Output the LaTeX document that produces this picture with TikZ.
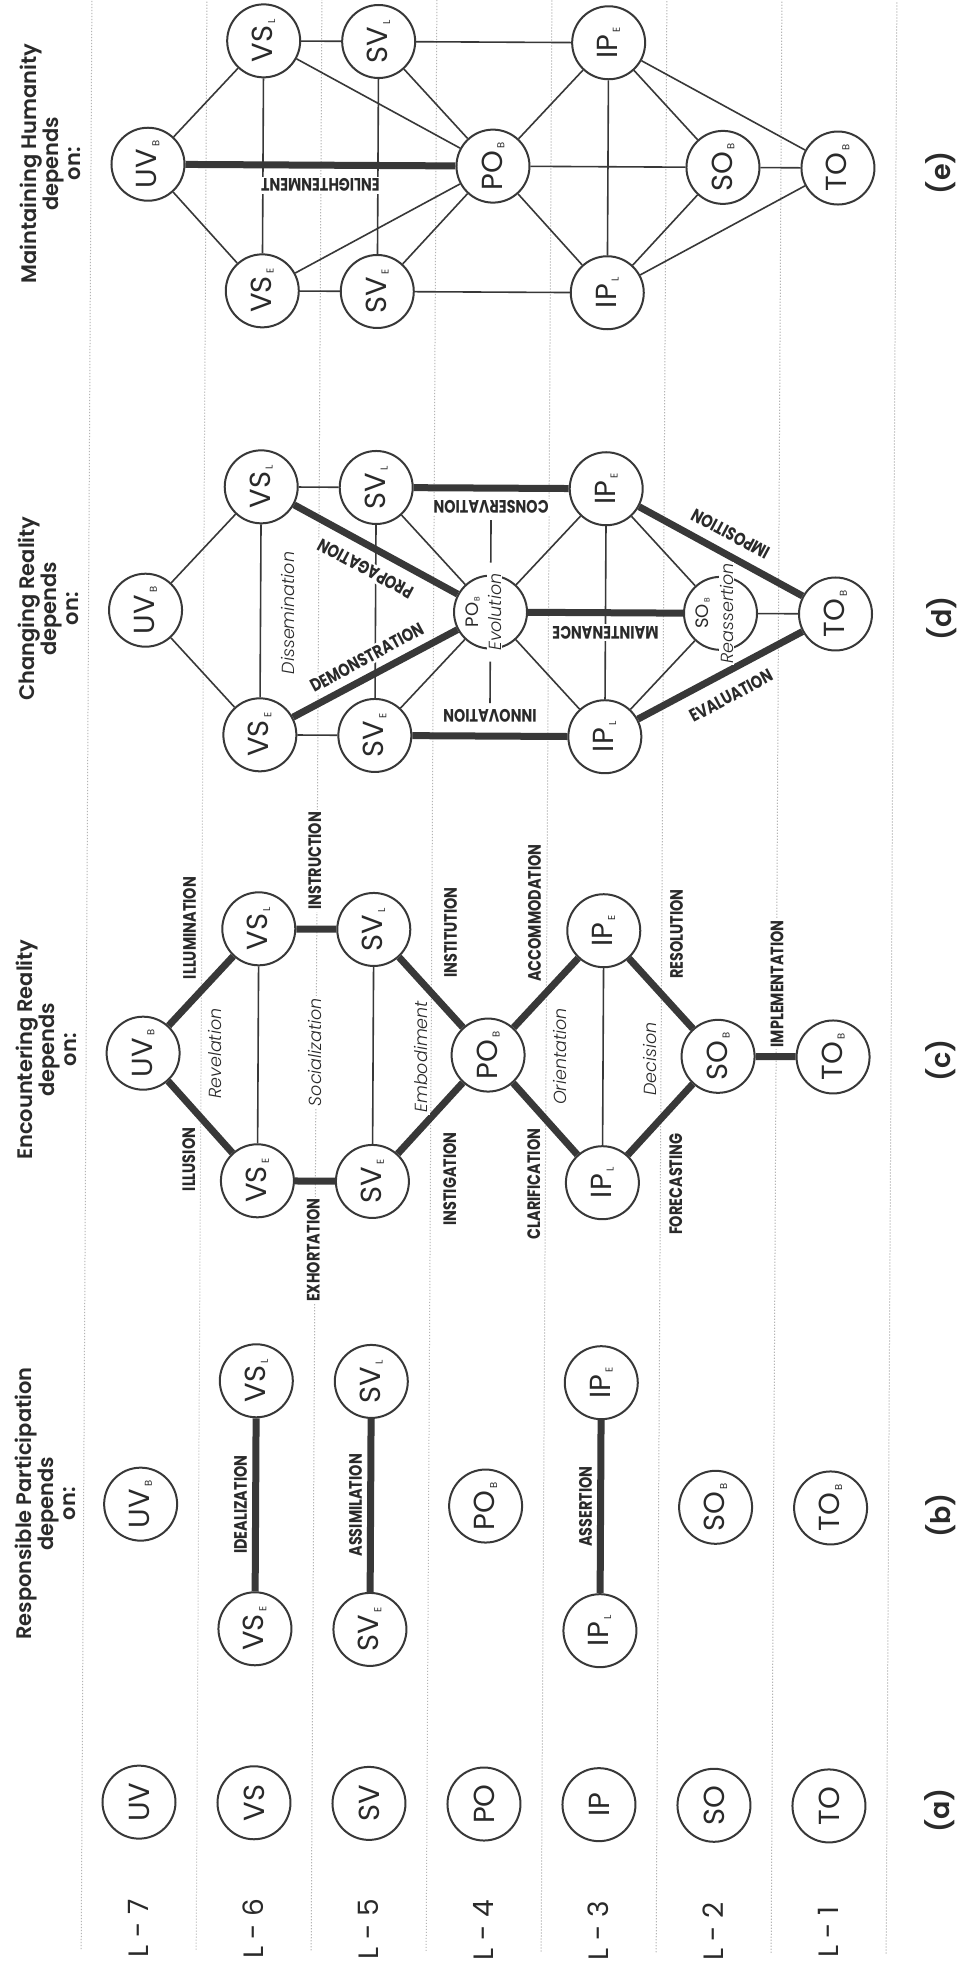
\documentclass[tikz,border=0pt]{standalone}
\usepackage{fontspec}
\setmainfont{Poppins}
\newfontfamily\pSemi{Poppins SemiBold}
\newfontfamily\pCond{Poppins Bold}[FakeStretch=0.8]
\newfontfamily\pLtIt{Poppins Light Italic}
\usetikzlibrary{calc}
\definecolor{ink}{HTML}{2A2A2A}
\definecolor{linec}{HTML}{383838}
\definecolor{dotc}{HTML}{B4B4B4}
\newcommand\sbs[1]{\kern1.2pt\raisebox{-1.2pt}{\fontsize{5}{5}\selectfont #1}}
\newcommand\sbss[1]{\kern0.8pt\raisebox{-0.8pt}{\fontsize{3.8}{3.8}\selectfont #1}}
\tikzset{
  nd/.style={circle, draw=linec, line width=1pt, fill=white, minimum size=36.5pt, inner sep=0pt, rotate=90, text=ink, font=\fontsize{14.5}{14.5}\selectfont},
  lite/.style={draw=linec, line width=0.8pt},
  heavy/.style={draw=linec, line width=3.5pt},
  lab/.style={font=\pCond\fontsize{9}{9}\selectfont, text=ink, fill=white, inner sep=1pt},
  ital/.style={font=\pLtIt\fontsize{8.75}{8.75}\selectfont, text=ink, fill=white, inner sep=1pt, rotate=90},
  small/.style={font=\fontsize{9}{9}\selectfont, text=ink, inner sep=0pt, rotate=90},
  head/.style={font=\pSemi\fontsize{10.5}{11}\selectfont, align=center, rotate=90, text=ink, inner sep=0pt},
  lvl/.style={font=\fontsize{14}{14}\selectfont, rotate=90, text=ink},
  tag/.style={font=\pSemi\fontsize{13.5}{13.5}\selectfont, rotate=90, text=ink},
  dots/.style={draw=dotc, line width=0.5pt, dash pattern=on 0.6pt off 0.9pt},
}
\begin{document}
\begin{tikzpicture}[x=0.5pt,y=-0.5pt]
\fill[white] (0,0) rectangle (963,1961);
\useasboundingbox (0,0) rectangle (963,1961);
\begin{scope}[rotate around={-0.315:(481,1800)}]
\foreach \x in {82,197,312,427,542,657,772,887} \draw[dots] (\x,0) -- (\x,1953);

% level labels
\node[lvl] (L7) at (139,1930) {L - 7};
\node[lvl] (L6) at (254,1930) {L - 6};
\node[lvl] (L5) at (369,1930) {L - 5};
\node[lvl] (L4) at (484,1930) {L - 4};
\node[lvl] (L3) at (599,1930) {L - 3};
\node[lvl] (L2) at (714,1930) {L - 2};
\node[lvl] (L1) at (829,1930) {L - 1};

% headings
\node[head] (He) at (41,166) {Maintaining Humanity\\depends\\on:};
\node[head] (Hd) at (42,611) {Changing Reality\\depends\\on:};
\node[head] (Hc) at (42,1052) {Encountering Reality\\depends\\on:};
\node[head] (Hb) at (44,1506) {Responsible Participation\\depends\\on:};

% tags
\node[tag] (Te) at (932,170) {(e)};
\node[tag] (Td) at (935,616) {(d)};
\node[tag] (Tc) at (937,1058) {(c)};
\node[tag] (Tb) at (939,1513) {(b)};
\node[tag] (Ta) at (940,1808) {(a)};

% ---------------- (a)
\node[nd] (UVa) at (139,1804) {UV};
\node[nd] (VSa) at (254,1804) {VS};
\node[nd] (SVa) at (369,1804) {SV};
\node[nd] (POa) at (484,1804) {PO};
\node[nd] (IPa) at (599,1804) {IP};
\node[nd] (SOa) at (714,1804) {SO};
\node[nd] (TOa) at (829,1804) {TO};

% ---------------- (b)
\node[nd] (UVb) at (139,1506) {UV\sbs{B}};
\node[nd] (VSEb) at (254,1630) {VS\sbs{E}};
\node[nd] (VSLb) at (254,1382) {VS\sbs{L}};
\node[nd] (SVEb) at (369,1630) {SV\sbs{E}};
\node[nd] (SVLb) at (369,1382) {SV\sbs{L}};
\node[nd] (POb) at (484,1506) {PO\sbs{B}};
\node[nd] (IPLb) at (599,1630) {IP\sbs{L}};
\node[nd] (IPEb) at (599,1382) {IP\sbs{E}};
\node[nd] (SOb) at (714,1506) {SO\sbs{B}};
\node[nd] (TOb) at (829,1506) {TO\sbs{B}};
\draw[heavy] (VSEb) -- (VSLb) (SVEb) -- (SVLb) (IPLb) -- (IPEb);
\node[lab, rotate=90] at (239,1506) {IDEALIZATION};
\node[lab, rotate=90] at (354,1506) {ASSIMILATION};
\node[lab, rotate=90] at (584,1506) {ASSERTION};

% ---------------- (c)
\node[nd] (UVBc) at (139,1055) {UV\sbs{B}};
\node[nd] (VSLc) at (254,930) {VS\sbs{L}};
\node[nd] (VSEc) at (254,1182) {VS\sbs{E}};
\node[nd] (SVLc) at (369,930) {SV\sbs{L}};
\node[nd] (SVEc) at (369,1182) {SV\sbs{E}};
\node[nd] (POBc) at (484,1055) {PO\sbs{B}};
\node[nd] (IPEc) at (599,930) {IP\sbs{E}};
\node[nd] (IPLc) at (599,1182) {IP\sbs{L}};
\node[nd] (SOBc) at (714,1055) {SO\sbs{B}};
\node[nd] (TOBc) at (829,1055) {TO\sbs{B}};
\draw[lite] (VSLc) -- (VSEc) (SVLc) -- (SVEc) (IPEc) -- (IPLc);
\draw[heavy] (UVBc) -- (VSLc) (UVBc) -- (VSEc) (VSLc) -- (SVLc) (VSEc) -- (SVEc)
  (SVLc) -- (POBc) (SVEc) -- (POBc) (POBc) -- (IPEc) (POBc) -- (IPLc)
  (IPEc) -- (SOBc) (IPLc) -- (SOBc) (SOBc) -- (TOBc);
\node[ital] at (211,1055) {Revelation};
\node[ital] at (311,1053) {Socialization};
\node[ital] at (417,1057) {Embodiment};
\node[ital] at (556,1056) {Orientation};
\node[ital] at (646,1058) {Decision};
\node[lab, rotate=90, anchor=east] at (185,1127) {ILLUSION};
\node[lab, rotate=90, anchor=west] at (185,983) {ILLUMINATION};
\node[lab, rotate=90, anchor=east] at (310,1197) {EXHORTATION};
\node[lab, rotate=90, anchor=west] at (310,913) {INSTRUCTION};
\node[lab, rotate=90, anchor=east] at (446,1130) {INSTIGATION};
\node[lab, rotate=90, anchor=west] at (446,980) {INSTITUTION};
\node[lab, rotate=90, anchor=east] at (530,1126) {CLARIFICATION};
\node[lab, rotate=90, anchor=west] at (530,984) {ACCOMMODATION};
\node[lab, rotate=90, anchor=east] at (672,1130) {FORECASTING};
\node[lab, rotate=90, anchor=west] at (672,980) {RESOLUTION};
\node[lab, rotate=90, anchor=west] at (773,1048) {IMPLEMENTATION};

% ---------------- (d)
\node[nd] (UVBd) at (139,612) {UV\sbs{B}};
\node[nd] (VSLd) at (254,488) {VS\sbs{L}};
\node[nd] (VSEd) at (254,736) {VS\sbs{E}};
\node[nd] (SVLd) at (369,488) {SV\sbs{L}};
\node[nd] (SVEd) at (369,736) {SV\sbs{E}};
\node[nd] (POBd) at (484,612) {};
\node[nd] (IPEd) at (599,488) {IP\sbs{E}};
\node[nd] (IPLd) at (599,736) {IP\sbs{L}};
\node[nd] (SOBd) at (714,612) {};
\node[nd] (TOBd) at (829,612) {TO\sbs{B}};
\coordinate (dPOt) at (484,520);
\coordinate (dPOb) at (484,703);
\draw[lite] (UVBd) -- (VSLd) (UVBd) -- (VSEd) (VSLd) -- (VSEd) (VSLd) -- (SVLd)
  (VSEd) -- (SVEd) (SVLd) -- (SVEd) (SVLd) -- (POBd) (SVEd) -- (POBd)
  (POBd) -- (IPEd) (POBd) -- (IPLd) (IPEd) -- (IPLd) (IPEd) -- (SOBd)
  (IPLd) -- (SOBd) (SOBd) -- (TOBd);
\draw[lite, shorten <=6pt] (POBd) -- (dPOt);
\draw[lite, shorten <=6pt] (POBd) -- (dPOb);
\draw[heavy] (VSLd) -- (POBd) (VSEd) -- (POBd) (SVLd) -- (IPEd) (SVEd) -- (IPLd)
  (POBd) -- (SOBd) (IPEd) -- (TOBd) (IPLd) -- (TOBd);
\node[ital] at (281,614) {Dissemination};
\node[lab, rotate=151.7] at ($(POBd)!0.5!(VSLd)!11pt!90:(VSLd)$) {PROPAGATION};
\node[lab, rotate=28.3] at ($(VSEd)!0.5!(POBd)!9pt!90:(POBd)$) {DEMONSTRATION};
\node[lab, rotate=180] at ($(IPEd)!0.5!(SVLd)!9.5pt!90:(SVLd)$) {CONSERVATION};
\node[lab, rotate=180] at ($(IPLd)!0.5!(SVEd)!10pt!-90:(SVEd)$) {INNOVATION};
\node[lab, rotate=180] at ($(SOBd)!0.5!(POBd)!10pt!90:(POBd)$) {MAINTENANCE};
\node[lab, rotate=151.7] at ($(TOBd)!0.5!(IPEd)!10pt!-90:(IPEd)$) {IMPOSITION};
\node[lab, rotate=28.3] at ($(IPLd)!0.5!(TOBd)!11.5pt!-90:(TOBd)$) {EVALUATION};
\node[small] (POBdt) at (466,612) {PO\sbss{B}};
\node[ital, inner sep=0.5pt] (POBdi) at (488,612) {Evolution};
\node[small] (SOBdt) at (696,612) {SO\sbss{B}};
\node[ital, inner sep=0.5pt] (SOBdi) at (720,612) {Reassertion};

% ---------------- (e)
\node[nd] (UVBe) at (139,166) {UV\sbs{B}};
\node[nd] (VSLe) at (254,42) {VS\sbs{L}};
\node[nd] (VSEe) at (254,292) {VS\sbs{E}};
\node[nd] (SVLe) at (369,42) {SV\sbs{L}};
\node[nd] (SVEe) at (369,292) {SV\sbs{E}};
\node[nd] (POBe) at (484,166) {PO\sbs{B}};
\node[nd] (IPEe) at (599,42) {IP\sbs{E}};
\node[nd] (IPLe) at (599,292) {IP\sbs{L}};
\node[nd] (SOBe) at (714,166) {SO\sbs{B}};
\node[nd] (TOBe) at (829,166) {TO\sbs{B}};
\draw[lite] (UVBe) -- (VSLe) (UVBe) -- (VSEe) (VSLe) -- (VSEe) (VSLe) -- (SVLe)
  (VSEe) -- (SVEe) (SVLe) -- (SVEe) (VSLe) -- (POBe) (VSEe) -- (POBe)
  (SVLe) -- (POBe) (SVEe) -- (POBe) (SVLe) -- (IPEe) (SVEe) -- (IPLe)
  (POBe) -- (IPEe) (POBe) -- (IPLe) (IPEe) -- (IPLe) (POBe) -- (SOBe)
  (IPEe) -- (SOBe) (IPLe) -- (SOBe) (IPEe) -- (TOBe) (IPLe) -- (TOBe) (SOBe) -- (TOBe);
\draw[heavy] (UVBe) -- (POBe);
\node[lab, rotate=180] at ($(POBe)!0.5!(UVBe)!10pt!90:(UVBe)$) {ENLIGHTENMENT};
\end{scope}
\end{tikzpicture}
\end{document}
